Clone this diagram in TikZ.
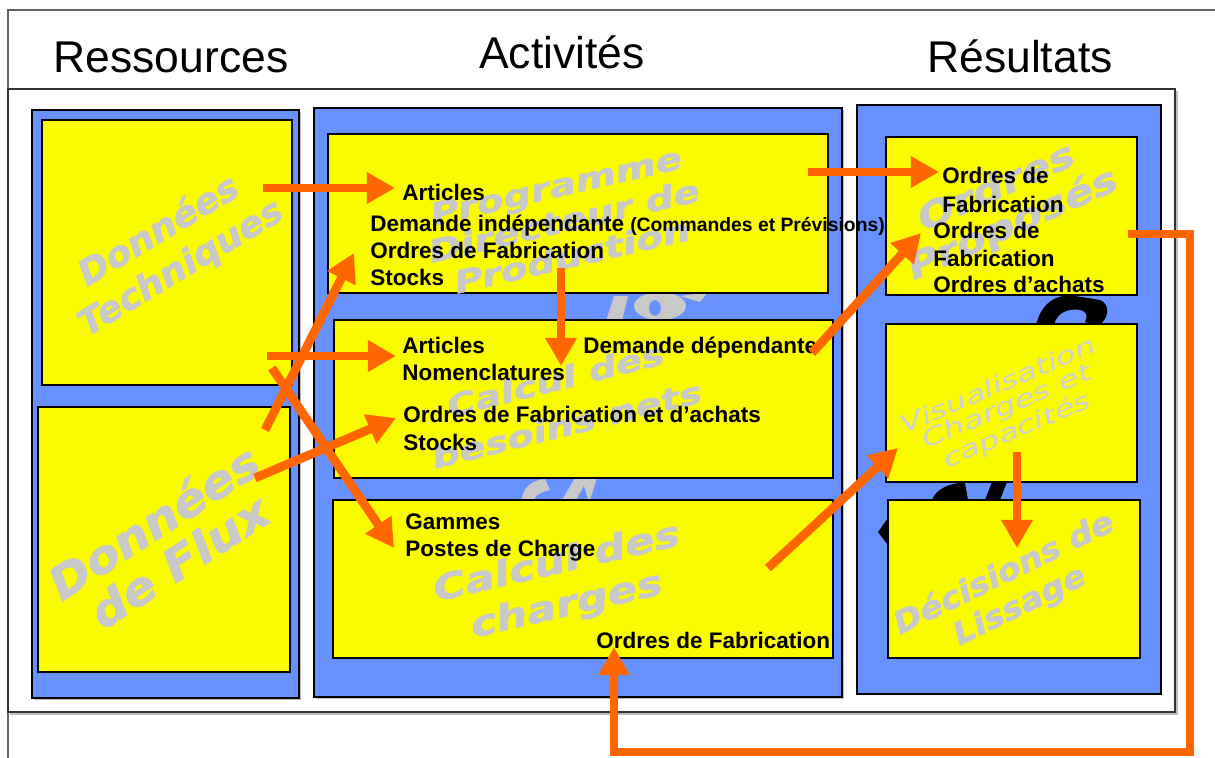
\documentclass[tikz,border=0pt]{standalone}
\usepackage{fontspec}
\setmainfont{Liberation Sans}
\newfontfamily\wmfont{DejaVu Sans}[BoldItalicFeatures={FakeBold=1.6}]
\usetikzlibrary{arrows.meta}
\definecolor{bluebg}{RGB}{102,145,255}
\definecolor{yelbox}{RGB}{250,250,0}
\definecolor{orarr}{RGB}{255,102,0}
\definecolor{wmgrey}{RGB}{200,200,200}
\definecolor{wmlight}{RGB}{208,208,208}
\definecolor{framegrey}{RGB}{100,100,100}
\definecolor{shadowgrey}{RGB}{190,190,190}
\newcommand\wmx[2]{\scalebox{#1}[1]{#2}}
\tikzset{
  bluebox/.style={draw=black, line width=0.7pt, fill=bluebg, inner sep=0, outer sep=0},
  yelbox/.style={draw=black, line width=0.8pt, fill=yelbox, inner sep=0, outer sep=0},
  arr/.style={draw=orarr, line width=5pt, -{Triangle[width=17pt,length=16pt]}},
  lbl/.style={anchor=base west, inner sep=0, font=\bfseries\fontsize{12.8}{15}\selectfont},
  ttl/.style={anchor=base, inner sep=0, font=\fontsize{25.3}{30}\selectfont},
  wm/.style={text=wmgrey, align=center, inner sep=0},
  wmb/.style={wm, font=\wmfont\bfseries\itshape},
}
\begin{document}
\begin{tikzpicture}[x=0.02cm,y=-0.02cm]
\useasboundingbox (0,0) rectangle (1215,758);
% frames
\draw[framegrey, line width=0.8pt] (8,758) -- (8,10) -- (1215,10);
\draw[shadowgrey, line width=0.8pt] (1177,91) -- (1177,714) -- (10,714);
\draw[black!80, line width=0.8pt] (8,89) rectangle (1175,712);
% titles
\node[ttl] (tRes) at (171,72) {Ressources};
\node[ttl] (tAct) at (562,68) {Activités};
\node[ttl] (tRes2) at (1020,72) {Résultats};
% blue columns (with light shadow)
\fill[shadowgrey] (34,112) rectangle (301,700);
\fill[shadowgrey] (316,110) rectangle (844,699);
\node[bluebox, minimum width=5.34cm, minimum height=11.76cm] (colL) at (165.5,404) {};
\node[bluebox, minimum width=10.56cm, minimum height=11.78cm] (colM) at (578,402.5) {};
\node[bluebox, minimum width=6.08cm, minimum height=11.78cm] (colR) at (1009,399.5) {};
% hidden background fragments
\fill[wmgrey] (606,321) -- (614,296) -- (628,296) -- (622,321) -- cycle;
\fill[wmgrey, even odd rule] (660,306) ellipse [x radius=26, y radius=14] (655,308) ellipse [x radius=6, y radius=8];
\fill[wmgrey] (680,296) -- (708,292) -- (700,302) -- cycle;
\fill[wmgrey] (522,500) .. controls (522,488) and (532,480) .. (545,479) -- (550,490) .. controls (540,492) and (535,496) .. (534,500) -- cycle;
\fill[wmgrey] (562,500) -- (575,478) -- (597,478) -- (590,500) -- cycle;
\fill[bluebg] (576,500) -- (584,486) -- (588,500) -- cycle;
\fill[black] (1036,326) .. controls (1040,305) and (1055,293) .. (1075,296) -- (1100,300) .. controls (1110,304) and (1110,318) .. (1098,326) -- (1085,322) .. controls (1090,312) and (1082,308) .. (1070,310) .. controls (1060,312) and (1055,318) .. (1054,326) -- cycle;
\fill[black] (932,500) .. controls (935,490) and (950,482) .. (965,483) -- (968,500) -- cycle;
\fill[black] (985,500) -- (992,482) -- (1007,482) -- (1000,500) -- cycle;
\fill[black] (888,518) -- (878,532) -- (888,545) -- cycle;
% yellow boxes
\node[yelbox, minimum width=5.0cm, minimum height=5.3cm] (bLT) at (167,252.5) {};
\node[yelbox, minimum width=5.04cm, minimum height=5.3cm] (bLB) at (164,539.5) {};
\node[yelbox, minimum width=10.0cm, minimum height=3.18cm] (bMT) at (578,213.5) {};
\node[yelbox, minimum width=9.98cm, minimum height=3.16cm] (bMM) at (583.5,399) {};
\node[yelbox, minimum width=10.0cm, minimum height=3.16cm] (bMB) at (583,579) {};
\node[yelbox, minimum width=5.02cm, minimum height=3.16cm] (bRT) at (1011.5,216) {};
\node[yelbox, minimum width=5.02cm, minimum height=3.16cm] (bRM) at (1011.5,403) {};
\node[yelbox, minimum width=5.04cm, minimum height=3.16cm] (bRB) at (1014,579) {};
% watermarks
\node[wmb, rotate=31, font=\wmfont\bfseries\itshape\fontsize{20}{24.4}\selectfont] (wLT) at (170,250) {\wmx{1.05}{Données}\\\wmx{1.05}{Techniques}};
\node[wmb, rotate=33, font=\wmfont\bfseries\itshape\fontsize{25.5}{26.6}\selectfont] (wLB) at (166,541) {\wmx{1.1}{Données}\\\wmx{1.1}{de Flux}};
\node[wmb, rotate=13, font=\wmfont\bfseries\itshape\fontsize{17.5}{20.4}\selectfont] (wMT) at (564,221) {\wmx{1.28}{Programme}\\\wmx{1.28}{Directeur de}\\\wmx{1.28}{Production}};
\node[wmb, rotate=14, font=\wmfont\bfseries\itshape\fontsize{17}{26.4}\selectfont] (wMM) at (561,402) {\wmx{1.3}{Calcul des}\\\wmx{1.3}{besoins nets}};
\node[wmb, rotate=13, font=\wmfont\bfseries\itshape\fontsize{20}{24.8}\selectfont] (wMB) at (562,585) {\wmx{1.25}{Calcul des}\\\wmx{1.25}{charges}};
\node[wmb, rotate=24, font=\wmfont\bfseries\itshape\fontsize{20}{22.8}\selectfont] (wRT) at (1005,207) {\wmx{1.25}{Ordres}\\\wmx{1.25}{Proposés}};
\node[wm, text=wmlight, rotate=23, font=\wmfont\itshape\fontsize{13.5}{12.8}\selectfont] (wRM) at (1008,409) {\wmx{1.4}{Visualisation}\\\wmx{1.4}{Charges et}\\\wmx{1.4}{capacités}};
\node[wmb, rotate=26, font=\wmfont\bfseries\itshape\fontsize{17.5}{20.4}\selectfont] (wRB) at (1012,590) {\wmx{1.1}{Décisions de}\\\wmx{1.1}{Lissage}};
% labels
\node[lbl] (l1) at (402,200) {Articles};
\node[lbl] (l2) at (370,231) {Demande indépendante {\fontsize{11}{13}\selectfont(Commandes et Prévisions)}};
\node[lbl] (l3) at (370,258) {Ordres de Fabrication};
\node[lbl] (l4) at (370,285) {Stocks};
\node[lbl] (l5) at (402,353) {Articles};
\node[lbl] (l6) at (402,380) {Nomenclatures};
\node[lbl] (l7) at (583,353) {Demande dépendante};
\node[lbl] (l8) at (403,422) {Ordres de Fabrication et d’achats};
\node[lbl] (l9) at (403,450) {Stocks};
\node[lbl] (l10) at (405,529) {Gammes};
\node[lbl] (l11) at (405,556) {Postes de Charge};
\node[lbl] (l12) at (596,648) {Ordres de Fabrication};
\node[lbl] (l13) at (942,183) {Ordres de};
\node[lbl] (l14) at (942,212) {Fabrication};
\node[lbl] (l15) at (933,238) {Ordres de};
\node[lbl] (l16) at (933,266) {Fabrication};
\node[lbl] (l17) at (933,292) {Ordres d’achats};
% arrow end points
\coordinate (a1s) at (263,188); \coordinate (a1e) at (395,188);
\coordinate (a2s) at (265,430); \coordinate (a2e) at (354,253);
\coordinate (a3s) at (267,356); \coordinate (a3e) at (396,356);
\coordinate (a4s) at (255,478); \coordinate (a4e) at (396,418);
\coordinate (a5s) at (272,368); \coordinate (a5e) at (394,548);
\coordinate (a6s) at (561,268); \coordinate (a6e) at (561,366);
\coordinate (a7s) at (808,172); \coordinate (a7e) at (939,172);
\coordinate (a8s) at (812,353); \coordinate (a8e) at (921,233);
\coordinate (a9s) at (768,568); \coordinate (a9e) at (898,448);
\coordinate (a10s) at (1017,452); \coordinate (a10e) at (1017,548);
\coordinate (fbS) at (1128,234); \coordinate (fb1) at (1190,234);
\coordinate (fb2) at (1190,752); \coordinate (fb3) at (614,752);
\coordinate (fbE) at (614,647);
% arrows
\draw[arr] (a1s) -- (a1e);
\draw[arr] (a2s) -- (a2e);
\draw[arr] (a3s) -- (a3e);
\draw[arr] (a4s) -- (a4e);
\draw[arr] (a5s) -- (a5e);
\draw[arr] (a6s) -- (a6e);
\draw[arr] (a7s) -- (a7e);
\draw[arr] (a8s) -- (a8e);
\draw[arr] (a9s) -- (a9e);
\draw[arr] (a10s) -- (a10e);
\draw[arr] (fbS) -- (fb1) -- (fb2) -- (fb3) -- (fbE);
\end{tikzpicture}
\end{document}
